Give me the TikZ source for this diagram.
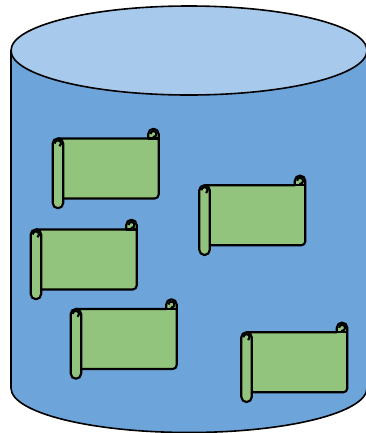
\documentclass[tikz,border=0pt]{standalone}
\definecolor{drumblue}{RGB}{109,165,219}
\definecolor{drumtop}{RGB}{167,201,235}
\definecolor{scrollgreen}{RGB}{147,196,125}
\tikzset{
  drumline/.style={draw=black, line width=1.2pt},
  scrollline/.style={draw=black, line width=1.6pt, line join=round},
}
\begin{document}
\begin{tikzpicture}[x=0.75pt, y=-0.75pt]
        \useasboundingbox (0,0) rectangle (366,433);

        % Drum body
        \clip (0,0) rectangle (366,433);
        \fill[drumblue] (11,50) -- (11,388) arc[start angle=180, end angle=0, x radius=178, y radius=44.5] -- (367,50) -- cycle;
        \draw[drumline] (11,50) -- (11,388) arc[start angle=180, end angle=0, x radius=178, y radius=44.5] -- (367,50);

        % Drum top
        \draw[drumline, fill=drumtop] (189,50.5) ellipse[x radius=178, y radius=44.5];

        % Scrolls
        \foreach \xpos/\ypos in {52.7/138.5, 199.3/185.3, 30.7/229.5, 70.7/309, 241.3/332.3} {
          \begin{scope}[shift={(\xpos,\ypos)}]
            % sheet
            \draw[scrollline, fill=scrollgreen] (5,0) -- (95.5,0) -- (95.5,-4.5) arc[start angle=180, end angle=360, radius=5.25] -- (106,56) arc[start angle=0, end angle=90, radius=4] -- (10.5,60) -- (10.5,64.5) arc[start angle=0, end angle=180, radius=5.25] -- (0,5) arc[start angle=180, end angle=270, radius=5];
            % roll
            \draw[scrollline] (10.5,60) -- (10.5,5) arc[start angle=0, end angle=-90, radius=5.5];
            \draw[scrollline] (2,5) arc[start angle=180, end angle=420, radius=3.2];
            % curl
            \draw[scrollline] (95.5,0) -- (106,0);
            \draw[scrollline] (97.8,-4.5) arc[start angle=180, end angle=450, radius=3] -- (100.8,0);
          \end{scope}
        }

    \end{tikzpicture}
\end{document}
